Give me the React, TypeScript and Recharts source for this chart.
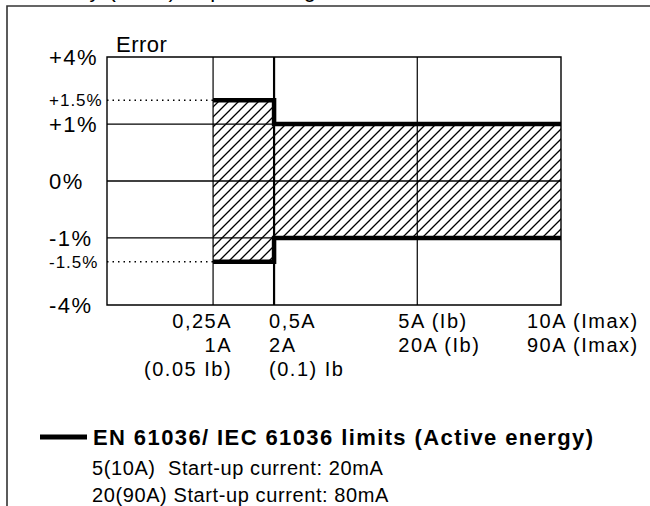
import React from 'react';
import {
  ComposedChart,
  Area,
  Line,
  XAxis,
  YAxis,
  ReferenceLine,
  ReferenceArea,
} from 'recharts';

// Test points, in A for the 5(10A) meter
const currentValues = [0.25, 0.5, 5, 10];
const labels5A = ['0,25A', '0,5A', '5A (Ib)', '10A (Imax)'];
const labels20A = ['1A', '2A', '20A (Ib)', '90A (Imax)'];
const ibLabels = ['(0.05 Ib)', '(0.1) Ib', '', ''];

// EN 61036 limits, in %
const upperLimit = [1.5, 1, 1, 1];
const lowerLimit = [-1.5, -1, -1, -1];

const errorTicks = [-4, -1.5, -1, 0, 1, 1.5, 4];
const errorLabels = ['-4%', '-1.5%', '-1%', '0%', '+1%', '+1.5%', '+4%'];
const gridErrors = [1, 0, -1];
const gridCurrents = [0.25, 0.5, 5];

// the drawing uses broken (non uniform) axes, so values are mapped piecewise
const X_BREAKS: [number, number][] = [[0, 0], [0.25, 1], [0.5, 1.575], [5, 2.925], [10, 4.28]];
const Y_BREAKS: [number, number][] = [[0, 0], [1, 1], [1.5, 1.42], [4, 2.18]];

const piecewise = (breaks: [number, number][], v: number) => {
  const s = v < 0 ? -1 : 1;
  const a = Math.abs(v);
  for (let i = 1; i < breaks.length; i++) {
    const [v0, p0] = breaks[i - 1];
    const [v1, p1] = breaks[i];
    if (a <= v1 || i === breaks.length - 1) {
      return s * (p0 + ((a - v0) / (v1 - v0)) * (p1 - p0));
    }
  }
  return 0;
};
const xPos = (v: number) => piecewise(X_BREAKS, v);
const yPos = (v: number) => piecewise(Y_BREAKS, v);

const X_MAX = xPos(10);
const Y_MAX = yPos(4);

const data = currentValues.map((c, i) => ({
  x: xPos(c),
  band: [yPos(lowerLimit[i]), yPos(upperLimit[i])],
  upper: yPos(upperLimit[i]),
  lower: yPos(lowerLimit[i]),
}));

const FONT = "'Liberation Sans', Arial, Helvetica, sans-serif";

const YTick = (props: any) => {
  const { y, payload } = props;
  const idx = errorTicks.findIndex((t) => Math.abs(yPos(t) - payload.value) < 1e-6);
  if (idx < 0) return null;
  const small = Math.abs(errorTicks[idx]) === 1.5;
  return (
    <text
      x={49}
      y={y}
      dy="0.36em"
      textAnchor="start"
      fontFamily={FONT}
      fontSize={small ? 17 : 22}
      letterSpacing={small ? 1 : 1.5}
      fill="#000"
    >
      {errorLabels[idx]}
    </text>
  );
};

// label alignment per tick (as in the printed sheet)
const xTickStyle = [
  { anchor: 'end', dx: 19 },
  { anchor: 'start', dx: -5 },
  { anchor: 'start', dx: -19 },
  { anchor: 'start', dx: -34 },
];

const XTick = (props: any) => {
  const { x, y, payload } = props;
  const idx = currentValues.findIndex((c) => Math.abs(xPos(c) - payload.value) < 1e-6);
  if (idx < 0) return null;
  const st = xTickStyle[idx];
  const rows = [labels5A[idx], labels20A[idx], ibLabels[idx]];
  return (
    <g>
      {rows.map((r, k) =>
        r ? (
          <text
            key={k}
            x={x + st.dx}
            y={y + 23 + k * 24}
            textAnchor={st.anchor as any}
            fontFamily={FONT}
            fontSize={20}
            letterSpacing={1.5}
            fill="#000"
          >
            {r}
          </text>
        ) : null
      )}
    </g>
  );
};

export default function App() {
  return (
    <div style={{ position: 'absolute', left: 0, top: 0, width: 650, height: 506, background: '#fff' }}>
      <ComposedChart
        width={650}
        height={506}
        data={data}
        margin={{ top: 57, right: 89, bottom: 171, left: 67 }}
      >
        <defs>
          <pattern id="hatch" patternUnits="userSpaceOnUse" width="10" height="10">
            <path d="M-1,1 l2,-2 M0,10 l10,-10 M9,11 l2,-2" stroke="#000" strokeWidth="1.3" />
          </pattern>
        </defs>
        <XAxis
          type="number"
          dataKey="x"
          domain={[0, X_MAX]}
          ticks={currentValues.map(xPos)}
          interval={0}
          axisLine={false}
          tickLine={false}
          tickSize={0}
          tickMargin={0}
          height={30}
          tick={<XTick />}
          allowDataOverflow
        />
        <YAxis
          type="number"
          domain={[-Y_MAX, Y_MAX]}
          ticks={errorTicks.map(yPos)}
          interval={0}
          axisLine={false}
          tickLine={false}
          width={40}
          tick={<YTick />}
          allowDataOverflow
        />
        <Area
          dataKey="band"
          type="stepAfter"
          fill="url(#hatch)"
          fillOpacity={1}
          stroke="none"
          isAnimationActive={false}
          dot={false}
          activeDot={false}
        />
        {gridErrors.map((e) => (
          <ReferenceLine key={'h' + e} y={yPos(e)} stroke="#000" strokeWidth={1.4} />
        ))}
        {gridCurrents.map((c) => (
          <ReferenceLine key={'v' + c} x={xPos(c)} stroke="#000" strokeWidth={c === 0.5 ? 2.2 : 1.2} />
        ))}
        {[upperLimit[0], lowerLimit[0]].map((e) => (
          <ReferenceLine
            key={'d' + e}
            segment={[{ x: 0, y: yPos(e) }, { x: xPos(currentValues[0]), y: yPos(e) }]}
            stroke="#000"
            strokeWidth={1.3}
            strokeDasharray="1.5 4"
          />
        ))}
        <ReferenceArea
          x1={0}
          x2={X_MAX}
          y1={-Y_MAX}
          y2={Y_MAX}
          fill="none"
          stroke="#000"
          strokeWidth={1.4}
          ifOverflow="visible"
        />
        <Line
          dataKey="upper"
          type="stepAfter"
          stroke="#000"
          strokeWidth={4.5}
          dot={false}
          activeDot={false}
          isAnimationActive={false}
        />
        <Line
          dataKey="lower"
          type="stepAfter"
          stroke="#000"
          strokeWidth={4.5}
          dot={false}
          activeDot={false}
          isAnimationActive={false}
        />
      </ComposedChart>
      <svg
        width={650}
        height={506}
        style={{ position: 'absolute', left: 0, top: 0, pointerEvents: 'none' }}
        fontFamily={FONT}
      >
        <text x={3} y={-3} fontSize={22} letterSpacing={1} fill="#000">
          Accuracy (Imax) in percentage
        </text>
        <path d="M7,506 L7,6 L650,6" fill="none" stroke="#333" strokeWidth={1.6} />
        <text x={116} y={52} fontSize={22} letterSpacing={0.5} fill="#000">
          Error
        </text>
        <line x1={40} x2={87} y1={437} y2={437} stroke="#000" strokeWidth={5} />
        <text x={93} y={445} fontSize={22} fontWeight="bold" letterSpacing={1.4} fill="#000">
          EN 61036/ IEC 61036 limits (Active energy)
        </text>
        <text x={92} y={475} fontSize={20} letterSpacing={0.6} fill="#000" style={{ whiteSpace: 'pre' }}>
          {'5(10A)  Start-up current: 20mA'}
        </text>
        <text x={92} y={502} fontSize={20} letterSpacing={0.6} fill="#000">
          20(90A) Start-up current: 80mA
        </text>
      </svg>
    </div>
  );
}
